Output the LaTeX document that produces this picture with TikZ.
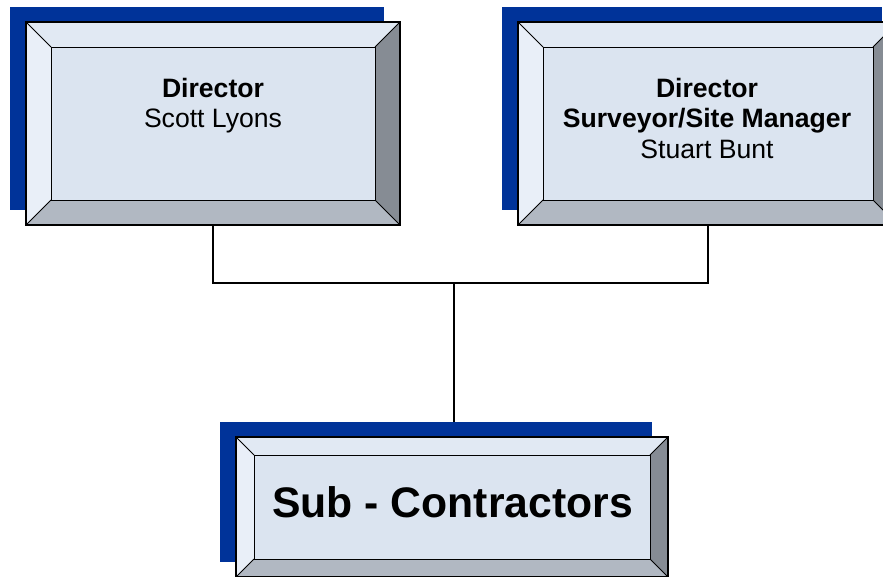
\documentclass[tikz,border=0pt]{standalone}
\usepackage{fontspec}
\setmainfont{Liberation Sans}
\usetikzlibrary{backgrounds}

\definecolor{shadowblue}{HTML}{003399}
\definecolor{bevtop}{HTML}{E1E9F3}
\definecolor{bevleft}{HTML}{E9EFF8}
\definecolor{bevright}{HTML}{868C94}
\definecolor{bevbottom}{HTML}{B1B8C2}
\definecolor{boxface}{HTML}{DBE4F0}

\tikzset{
  bevelline/.style={draw=black, line width=0.9pt},
  boxframe/.style={draw=black, line width=1.4pt, inner sep=0pt},
  link/.style={draw=black, line width=1.3pt},
  nametext/.style={font=\fontsize{26.6}{30.5}\selectfont, align=center, inner sep=0pt},
  bigtext/.style={font=\fontsize{42.7}{46}\selectfont\bfseries, inner sep=0pt}
}

% bevelled box: name, top left x, y, bottom right x, y, bevel width
\newcommand{\bevelbox}[6]{%
  \fill[shadowblue] (#2-16,#3-15) rectangle (#4-16,#5-15);
  \fill[bevtop] (#2,#3) -- (#4,#3) -- (#4-#6,#3+#6) -- (#2+#6,#3+#6) -- cycle;
  \fill[bevleft] (#2,#3) -- (#2+#6,#3+#6) -- (#2+#6,#5-#6) -- (#2,#5) -- cycle;
  \fill[bevright] (#4,#3) -- (#4,#5) -- (#4-#6,#5-#6) -- (#4-#6,#3+#6) -- cycle;
  \fill[bevbottom] (#2,#5) -- (#4,#5) -- (#4-#6,#5-#6) -- (#2+#6,#5-#6) -- cycle;
  \draw[bevelline, fill=boxface] (#2+#6,#3+#6) rectangle (#4-#6,#5-#6);
  \draw[bevelline] (#2,#3) -- (#2+#6,#3+#6) (#4,#3) -- (#4-#6,#3+#6)
    (#2,#5) -- (#2+#6,#5-#6) (#4,#5) -- (#4-#6,#5-#6);
  \node[boxframe, minimum width={(#4-#2)*1pt}, minimum height={(#5-#3)*1pt}]
    (#1) at ({(#2+#4)/2},{(#3+#5)/2}) {};%
}

\begin{document}
\begin{tikzpicture}[x=1pt, y=-1pt]
    \useasboundingbox (0,0) rectangle (883,576);

    % Boxes
    \bevelbox{dir1}{26}{22}{400}{225}{25}
    \bevelbox{dir2}{518}{22}{898}{225}{25}
    \bevelbox{subs}{236}{437}{668}{577}{18}

    % Texts inside the boxes
    \node[nametext, anchor=north] (dir1text) at (213,78) {\textbf{Director}\\Scott Lyons};
    \node[nametext, anchor=north] (dir2text) at (707,78) {\textbf{Director}\\\textbf{Surveyor/Site Manager}\\Stuart Bunt};
    \node[bigtext, anchor=base] (substext) at (452.5,517) {Sub - Contractors};

    % Connectors behind the boxes
    \coordinate (join) at (454,283);
    \begin{scope}[on background layer]
        \draw[link] (dir1.south) |- (join) -| (dir2.south);
        \draw[link] (join) -- (join |- subs.north);
    \end{scope}
\end{tikzpicture}
\end{document}
